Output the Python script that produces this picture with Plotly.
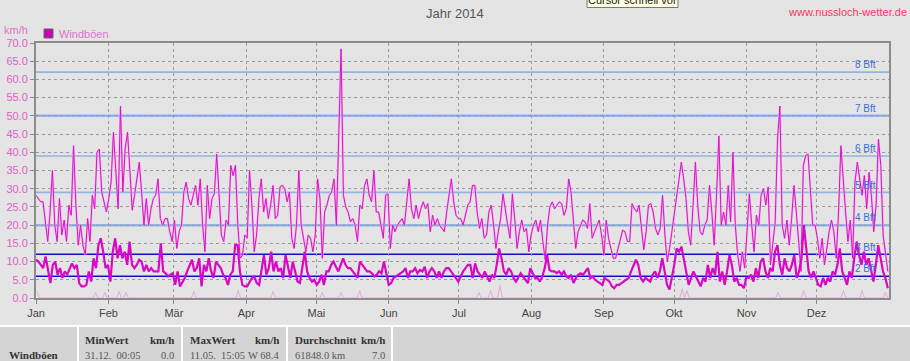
import plotly.graph_objects as go
import pandas as pd

# ---------------- data ----------------
months = ['Jan', 'Feb', 'Mär', 'Apr', 'Mai', 'Jun', 'Jul', 'Aug', 'Sep', 'Okt', 'Nov', 'Dez']
month_starts = ['2014-%02d-01' % m for m in range(1, 13)]

# daily maximum gusts (km/h)
gust_max = [
    28.2, 27.3, 26.4, 26.4, 21.4, 15.5, 23.6, 35.0, 20.0, 15.5, 27.3, 17.3, 21.4, 15.5, 25.5, 22.7,
    41.8, 25.5, 14.5, 20.0, 14.5, 11.8, 21.8, 15.5, 28.2, 24.5, 40.0, 40.9, 29.1, 26.4, 23.6, 27.3,
    31.8, 45.5, 35.5, 24.5, 52.7, 29.1, 40.9, 45.5, 35.0, 24.1, 28.2, 33.6, 37.3, 29.1, 20.0, 27.3,
    20.0, 24.5, 27.3, 28.2, 32.7, 21.8, 20.0, 21.8, 21.8, 18.2, 15.5, 21.4, 13.6, 18.2, 20.0, 29.1,
    31.8, 27.3, 25.5, 28.2, 30.9, 25.5, 32.7, 20.0, 12.7,
    30.9, 21.8, 27.3, 28.6, 39.5, 29.1, 17.3, 15.5, 21.4, 20.0, 36.4, 33.6, 36.4, 20.0, 10.9, 11.8,
    17.3, 16.4, 35.0, 25.5, 12.7, 17.3, 27.3, 32.7, 23.6, 27.3, 21.8, 25.5, 30.9, 21.8, 22.7, 30.5,
    30.9, 30.0, 26.4, 29.1, 16.4, 13.6, 20.0, 35.0, 20.0, 16.4, 12.7, 17.3, 16.4, 12.7, 17.3, 32.7,
    27.3, 10.9, 23.6, 25.5, 28.2, 29.1, 32.7, 20.0, 43.6, 68.4, 28.2, 25.0, 23.6, 20.9, 21.8, 20.0,
    15.5, 25.5, 24.5, 30.9, 32.7, 28.2, 26.4, 35.0, 23.6, 23.6, 20.0,
    16.4, 28.2, 28.6, 13.6, 20.0, 18.2, 20.0, 20.9, 21.8, 20.0, 26.4, 32.7, 24.5, 21.8, 25.5, 21.8,
    24.5, 26.4, 24.5, 25.9, 18.2, 22.7, 20.0, 21.8, 20.0, 19.1, 18.2, 23.6, 28.2, 32.7, 26.4, 22.7,
    21.8, 21.8, 20.0, 22.7, 25.5, 26.4, 30.9, 30.9, 23.6, 19.1, 21.8, 16.4, 17.3, 23.6, 25.5, 20.0,
    13.6, 18.2, 21.8, 28.6, 23.6, 20.0, 16.4, 28.6, 21.8, 13.6, 18.2, 21.4, 18.2, 19.1, 12.7, 17.3,
    20.0, 21.4, 18.2, 21.4, 15.5, 10.5, 20.0, 25.0,
    26.4, 24.5, 25.5, 26.4, 25.9, 22.7, 24.5, 32.7, 29.1, 21.8, 13.6, 18.2, 20.0, 21.4, 20.9, 19.1,
    25.9, 16.4, 18.2, 20.0, 21.4, 17.3, 11.8, 21.4, 16.4, 13.6, 10.9, 10.9, 13.6, 16.4, 18.6, 18.2,
    15.5, 15.5, 25.9, 24.5, 23.6, 25.5, 20.0, 13.2, 18.2, 25.5, 25.9, 23.6, 19.1, 17.3, 19.1, 28.2,
    17.3, 10.0, 13.6, 18.2, 22.7, 28.2, 31.8, 37.3, 32.7, 27.3, 18.2, 14.5, 25.5, 37.3, 25.5, 18.2,
    17.3, 20.0, 21.4, 30.9, 23.6, 14.5, 28.2,
    44.5, 20.0, 23.6, 20.0, 30.9, 20.9, 40.0, 20.0, 11.8, 7.3, 12.7, 8.2, 18.2, 28.6, 20.0, 12.7,
    22.7, 20.0, 28.2, 30.0, 25.5, 30.5, 9.1, 14.5, 20.9, 43.6, 52.7, 20.0, 16.4, 21.4, 14.5, 21.8,
    30.9, 23.6, 14.5, 7.3, 36.4, 39.1, 39.5, 28.2, 20.0, 20.0, 16.4, 10.9, 16.4, 9.1, 14.5, 18.2,
    21.4, 18.2, 10.9, 23.6, 41.8, 31.8, 23.6, 15.5, 21.4, 10.9, 31.8, 37.3, 32.7, 28.2, 33.6, 24.5,
    34.5, 28.2, 18.2, 25.5, 43.6, 36.4, 17.3, 12.7, 7.3,
]

# daily mean gusts (km/h)
gust_mean = [
    10.5, 10.0, 9.1, 8.2, 11.4, 7.3, 4.1, 9.1, 10.0, 6.4, 8.2, 5.5, 7.3, 6.4, 8.2, 9.5,
    8.2, 9.1, 4.1, 3.2, 3.2, 3.6, 7.3, 4.5, 10.9, 8.2, 14.5, 16.4, 12.7, 8.2, 9.1, 4.5,
    12.7, 16.4, 10.9, 14.5, 10.9, 12.7, 9.1, 15.5, 9.1, 8.2, 9.1, 10.5, 10.0, 7.3, 9.1, 7.3,
    8.2, 7.3, 7.3, 7.3, 15.0, 7.3, 6.8, 5.9, 6.4, 6.8, 3.6, 7.3, 3.2, 4.5, 5.5, 7.3,
    9.1, 10.5, 7.3, 8.2, 10.9, 3.2, 9.1, 7.3, 10.9,
    7.3, 5.5, 10.0, 9.1, 8.2, 6.4, 5.5, 3.6, 6.4, 7.3, 14.5, 14.5, 7.3, 3.6, 3.2, 3.2,
    4.5, 5.5, 5.9, 4.1, 3.6, 7.3, 11.8, 6.4, 8.2, 12.7, 7.3, 10.0, 7.3, 8.2, 5.5, 11.8,
    8.2, 5.5, 10.0, 7.3, 4.5, 4.1, 8.2, 12.7, 7.3, 5.5, 4.5, 5.0, 3.6, 4.5, 6.4, 3.6,
    7.3, 7.3, 9.1, 10.0, 8.6, 7.3, 9.1, 10.9, 9.1, 8.2, 8.2, 7.3, 6.4, 5.5, 10.0, 9.1,
    8.2, 7.3, 7.3, 6.8, 5.9, 6.4, 7.3,
    6.8, 10.0, 6.4, 3.6, 4.1, 5.5, 5.9, 6.4, 6.8, 7.3, 8.2, 5.5, 7.3, 7.3, 8.2, 6.8,
    7.7, 7.3, 8.6, 5.5, 7.3, 8.2, 7.3, 5.5, 7.3, 5.5, 7.3, 8.2, 8.2, 7.3, 6.4, 5.5,
    4.5, 5.9, 7.3, 8.2, 9.1, 9.1, 5.5, 9.5, 7.3, 6.4, 5.5, 7.3, 5.9, 4.5, 6.4, 5.5,
    9.1, 13.6, 10.9, 7.3, 6.4, 8.2, 7.3, 5.5, 4.5, 5.5, 6.8, 5.9, 5.0, 4.1, 8.2, 6.8,
    5.5, 5.5, 4.5, 5.9, 8.2, 11.8,
    7.7, 7.3, 7.3, 6.8, 7.3, 6.4, 7.3, 5.9, 5.5, 6.4, 4.1, 5.5, 6.4, 6.8, 6.4, 7.3,
    8.2, 5.5, 5.9, 5.0, 4.5, 4.1, 3.6, 5.5, 5.0, 4.5, 3.2, 2.7, 3.6, 3.6, 4.1, 4.5,
    5.0, 5.5, 7.3, 9.1, 10.5, 9.1, 5.5, 4.5, 5.5, 5.0, 4.5, 6.4, 7.3, 5.5, 7.3, 10.9,
    7.3, 3.6, 2.3, 5.5, 9.1, 13.6, 12.7, 14.1, 10.9, 7.3, 3.6, 5.5, 7.3, 5.9, 4.5, 3.2,
    5.5, 4.5, 9.1, 5.5, 8.2, 6.4,
    12.7, 4.5, 7.3, 3.6, 7.3, 11.8, 9.1, 4.5, 5.5, 3.6, 3.6, 2.7, 5.5, 5.5, 6.4, 4.5,
    8.2, 5.5, 10.0, 10.9, 7.3, 5.5, 8.2, 7.3, 12.7, 14.5, 9.1, 6.4, 10.9, 8.2, 7.3, 9.1,
    11.8, 5.5, 7.3, 10.9, 20.0, 12.7, 7.3, 5.5, 7.3, 5.5, 3.6, 3.2, 5.5, 3.6, 5.5, 4.5,
    7.3, 6.4, 9.1, 13.6, 7.3, 5.5, 3.6, 7.3, 5.5, 10.9, 15.5, 11.8, 9.1, 12.7, 9.1, 10.9,
    7.3, 4.5, 9.1, 14.5, 10.9, 7.3, 5.5, 2.7,
]

# daily minimum gusts: zero except for these days (day of year index, km/h)
min_days = [0, 25, 29, 35, 38, 67, 86, 101, 122, 130, 138, 189, 194, 198, 276, 278, 317, 328, 345, 353, 363]
min_vals = [1.8, 1.5, 1.5, 1.8, 1.5, 1.8, 2.0, 1.8, 1.5, 1.5, 2.0, 1.5, 2.0, 3.5, 2.5, 2.0, 1.5, 2.0, 2.0, 2.0, 1.5]

bft_levels = [6, 12, 20, 29, 39, 50, 62]
bft_labels = ['2 Bft', '3 Bft', '4 Bft', '5 Bft', '6 Bft', '7 Bft', '8 Bft']

table_header = ['MinWert', 'MaxWert', 'Durchschnitt']
table_unit = ['km/h', 'km/h', 'km/h']
table_left = ['31.12.  00:05', '11.05.  15:05', '61848.0 km']
table_right = ['0.0', 'W 68.4', '7.0']

# ---------------- geometry helpers (pixel -> paper) ----------------
W, H = 910, 361
L, R, T, B = 36, 889, 43, 298


def px(x):
    return (x - L) / (R - L)


def py(y):
    return (B - y) / (B - T)


SANS = 'Liberation Sans, Arial, sans-serif'
SERIF = 'Liberation Serif, Times New Roman, serif'


def note(x, y, text, size, color, xa='center', family=SANS, yref='paper', xref='paper'):
    return dict(xref=xref, yref=yref, x=x, y=y, text=text, showarrow=False,
                xanchor=xa, yanchor='middle', font=dict(family=family, size=size, color=color))


fig = go.Figure()

x_max = pd.date_range('2014-01-01', '2014-12-31 12:00', periods=len(gust_max))
x_mean = pd.date_range('2014-01-01', '2014-12-31 12:00', periods=len(gust_mean))
x_day = pd.date_range('2014-01-01', periods=365, freq='D') + pd.Timedelta(hours=12)
gust_min = [0.0] * 365
for d, v in zip(min_days, min_vals):
    gust_min[d] = v

fig.add_trace(go.Scatter(x=x_day, y=gust_min, mode='lines',
                         line=dict(color='#eaa6dc', width=1), hoverinfo='skip'))
fig.add_trace(go.Scatter(x=x_max, y=gust_max, mode='lines',
                         line=dict(color='#efb4e2', width=2.0), hoverinfo='skip'))
fig.add_trace(go.Scatter(x=x_max, y=gust_max, mode='lines',
                         line=dict(color='#dd10cc', width=1), hoverinfo='skip'))
fig.add_trace(go.Scatter(x=x_mean, y=gust_mean, mode='lines',
                         line=dict(color='#d808c4', width=2.2), hoverinfo='skip'))

shapes = []
for lev in bft_levels:
    dark = lev <= 12
    shapes.append(dict(type='line', xref='paper', yref='y', x0=0, x1=1, y0=lev, y1=lev,
                       layer='between',
                       line=dict(color='#1010cc' if dark else '#90b4e4',
                                 width=1.5 if dark else (2.5 if lev in (20, 50) else 1.6))))

# legend marker
shapes.append(dict(type='rect', xref='paper', yref='paper', x0=px(44), x1=px(53), y0=py(38), y1=py(29),
                   fillcolor='#cc00bb', line=dict(color='#666666', width=1)))
# tooltip box at top
shapes.append(dict(type='rect', xref='paper', yref='paper', x0=px(587), x1=px(678), y0=py(7.5), y1=py(-4),
                   fillcolor='#ffffe1', line=dict(color='#777777', width=1)))
# table band
shapes.append(dict(type='rect', xref='paper', yref='paper', x0=px(-2), x1=px(912), y0=py(363), y1=py(325),
                   fillcolor='#ffffff', line=dict(width=0)))
cells = [(0, 77), (79, 181), (183, 286), (288, 391), (393, 912)]
for a, b in cells:
    shapes.append(dict(type='rect', xref='paper', yref='paper', x0=px(a), x1=px(b), y0=py(363), y1=py(327),
                       fillcolor='#d4d4d4', line=dict(width=0)))

annotations = []
for lev, lab in zip(bft_levels, bft_labels):
    annotations.append(note(px(878), lev + 2.0, lab, 10, '#3a6ee0', xa='right', yref='y'))

annotations += [
    note(px(455), py(14), 'Jahr 2014', 13, '#555555'),
    note(px(909), py(12), 'www.nussloch-wetter.de', 11, '#ff3366', xa='right'),
    note(px(632), py(0), 'Cursor schnell vor', 11, '#222222'),
    note(px(57), py(34), 'Windböen', 11, '#e070d0', xa='left'),
    note(px(16), py(30), 'km/h', 11, '#e070c8'),
    note(px(7), py(355), '<b>Windböen</b>', 11, '#333333', xa='left', family=SERIF),
]
col_left = [83, 188, 293]
col_right = [176, 281, 387]
for i in range(3):
    annotations += [
        note(px(col_left[i]), py(340), '<b>%s</b>' % table_header[i], 11, '#333333', xa='left', family=SERIF),
        note(px(col_right[i]), py(340), '<b>%s</b>' % table_unit[i], 11, '#333333', xa='right', family=SERIF),
        note(px(col_left[i]), py(355), table_left[i].replace(' ', '&nbsp;'), 10.5, '#555555', xa='left',
             family=SERIF),
        note(px(col_right[i]), py(355), table_right[i], 10.5, '#555555', xa='right', family=SERIF),
    ]

fig.update_layout(
    template='none',
    width=W, height=H,
    margin=dict(l=L, r=W - R, t=T, b=H - B, pad=0),
    paper_bgcolor='#e4e4e4', plot_bgcolor='#e4e4e4',
    showlegend=False,
    shapes=shapes, annotations=annotations,
    xaxis=dict(type='date', range=['2014-01-01', '2015-01-01'], tickvals=month_starts, ticktext=months,
               ticks='outside', ticklen=4, tickcolor='#888888', showgrid=True, gridcolor='#9a9a9a',
               griddash='3px,3px', gridwidth=1, showline=True, linecolor='#8c8c8c', linewidth=2, mirror=True,
               tickfont=dict(family=SANS, size=11, color='#444444'), zeroline=False, automargin=False,
               fixedrange=True),
    yaxis=dict(range=[0, 70], tickvals=list(range(0, 71, 5)), tickformat='.1f', ticks='outside', ticklen=4,
               tickcolor='#888888', showgrid=True, gridcolor='#9a9a9a', griddash='3px,3px', gridwidth=1,
               showline=True, linecolor='#8c8c8c', linewidth=2, mirror=True,
               tickfont=dict(family=SANS, size=11, color='#e060c8'), zeroline=False, automargin=False,
               fixedrange=True),
)

fig.write_html('out.html', config={'displayModeBar': False},
               post_script="document.body.style.margin='0px';")
